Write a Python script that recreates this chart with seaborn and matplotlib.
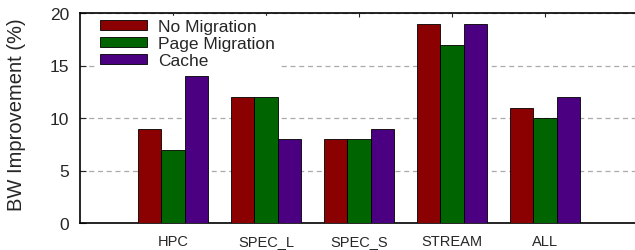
import matplotlib
matplotlib.use("Agg")
import matplotlib.pyplot as plt
import seaborn as sns
import pandas as pd

categories = ["HPC", "SPEC_L", "SPEC_S", "STREAM", "ALL"]
series_names = ["No Migration", "Page Migration", "Cache"]
no_migration = [9, 12, 8, 19, 11]
page_migration = [7, 12, 8, 17, 10]
cache = [14, 8, 9, 19, 12]
colors = ["#8b0000", "#006400", "#4b0082"]

rows = []
for name, vals in zip(series_names, [no_migration, page_migration, cache]):
    for c, v in zip(categories, vals):
        rows.append({"Benchmark": c, "Series": name, "Value": v})
df = pd.DataFrame(rows)

sns.set_theme(style="white")
plt.rcParams["font.family"] = ["Liberation Sans", "DejaVu Sans"]

fig = plt.figure(figsize=(6.35, 2.51), dpi=100)
ax = fig.add_axes([80 / 635, 27 / 251, 558 / 635, 210 / 251])

sns.barplot(data=df, x="Benchmark", y="Value", hue="Series", order=categories,
            hue_order=series_names, palette=colors, width=0.75, gap=0,
            edgecolor="black", linewidth=0.6, saturation=1, ax=ax, zorder=3)

ax.set_xlim(-1, 5)
ax.set_ylim(0, 20)
ax.set_yticks([0, 5, 10, 15, 20])
ax.set_xlabel("")
ax.set_ylabel("BW Improvement (%)", fontsize=14.5)
ax.yaxis.set_label_coords(-0.097, 0.52)

ax.yaxis.grid(True, linestyle=(0, (4, 3)), color="#aaaaaa", linewidth=0.9, zorder=0)
ax.set_axisbelow(True)

for s in ax.spines.values():
    s.set_color("black")
    s.set_linewidth(1.2)

ax.tick_params(axis="y", direction="in", length=4, width=0.8, labelsize=12.5, pad=8, left=True)
ax.tick_params(axis="x", direction="in", length=0, labelsize=10.5, pad=8, top=True, bottom=False)
sec = ax.secondary_xaxis("top")
sec.set_xticks(range(len(categories)))
sec.tick_params(direction="in", length=3, width=0.8, labeltop=False)
sec.spines["top"].set_visible(False)

leg = ax.legend(loc="upper left", bbox_to_anchor=(0.025, 1.0), frameon=True,
                fancybox=False, framealpha=1, facecolor="white", edgecolor="white",
                fontsize=12.5, handlelength=2.7, handleheight=0.5, labelspacing=0.12,
                handletextpad=0.65, borderpad=0.15, borderaxespad=0.2)
leg.set_zorder(5)

fig.savefig("out.png", dpi=100)
